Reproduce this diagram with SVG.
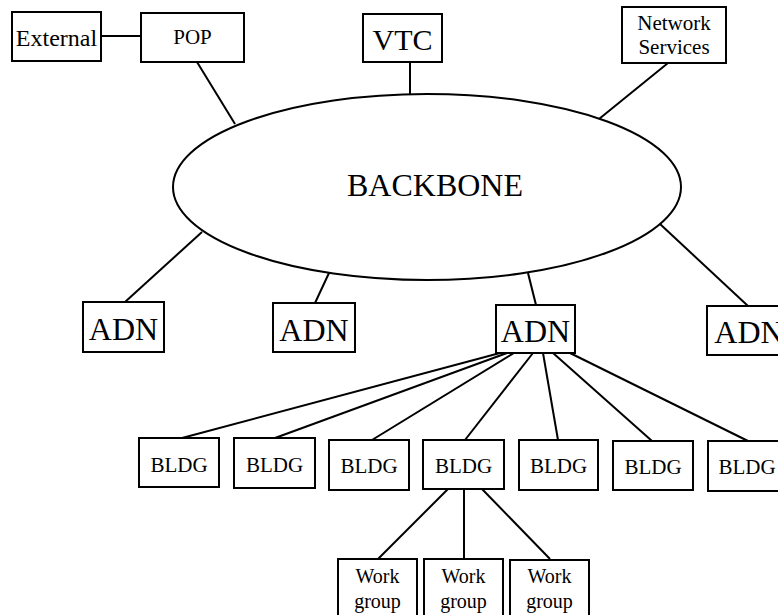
<svg xmlns="http://www.w3.org/2000/svg" width="778" height="615" viewBox="0 0 778 615">
<style>
.box{fill:#fff;stroke:#000;stroke-width:2}
.ln{stroke:#000;stroke-width:2;fill:none}
text{font-family:"Liberation Serif","Times New Roman",serif;fill:#000;text-anchor:middle}
.s20{font-size:20px}
.s21{font-size:21px}
.s24{font-size:24px}
.s30{font-size:30px}
.s32{font-size:32px}
</style>
<rect width="778" height="615" fill="#fff"/>
<g id="connectors">
<line class="ln" x1="101" y1="36" x2="141" y2="36"/>
<line class="ln" x1="197" y1="62" x2="235" y2="124"/>
<line class="ln" x1="410" y1="62" x2="410" y2="94"/>
<line class="ln" x1="668" y1="63" x2="599" y2="119"/>
<line class="ln" x1="202" y1="232" x2="125" y2="302"/>
<line class="ln" x1="329" y1="273" x2="315" y2="303"/>
<line class="ln" x1="528" y1="273" x2="536" y2="305"/>
<line class="ln" x1="660" y1="224" x2="748" y2="306"/>
<line class="ln" x1="500" y1="353" x2="182" y2="438"/>
<line class="ln" x1="507" y1="353" x2="275" y2="438"/>
<line class="ln" x1="514" y1="353" x2="372" y2="440"/>
<line class="ln" x1="533" y1="353" x2="465" y2="440"/>
<line class="ln" x1="543" y1="353" x2="558" y2="440"/>
<line class="ln" x1="553" y1="353" x2="652" y2="441"/>
<line class="ln" x1="570" y1="353" x2="748" y2="441"/>
<line class="ln" x1="448" y1="489" x2="378" y2="559"/>
<line class="ln" x1="464" y1="489" x2="464" y2="559"/>
<line class="ln" x1="482" y1="489" x2="550" y2="559"/>
</g>
<g id="backbone">
<ellipse class="box" cx="427" cy="187" rx="254" ry="93"/>
<text class="s32" x="435" y="196">BACKBONE</text>
</g>
<g id="external">
<rect class="box" x="12" y="12" width="89" height="49"/>
<text class="s24" x="56.5" y="46">External</text>
</g>
<g id="pop">
<rect class="box" x="141" y="13" width="103" height="49"/>
<text class="s21" x="192.5" y="44">POP</text>
</g>
<g id="vtc">
<rect class="box" x="363" y="14" width="79" height="48"/>
<text class="s30" x="402.5" y="50">VTC</text>
</g>
<g id="netsvc">
<rect class="box" x="622" y="7" width="104" height="56"/>
<text class="s21" x="674" y="30">Network</text>
<text class="s21" x="674" y="54">Services</text>
</g>
<g id="adn1">
<rect class="box" x="83" y="302" width="81" height="50"/>
<text class="s32" x="123.5" y="340">ADN</text>
</g>
<g id="adn2">
<rect class="box" x="273" y="303" width="82" height="49"/>
<text class="s32" x="314" y="341">ADN</text>
</g>
<g id="adn3">
<rect class="box" x="496" y="305" width="79" height="48"/>
<text class="s32" x="535.5" y="342">ADN</text>
</g>
<g id="adn4">
<rect class="box" x="707" y="306" width="80" height="49"/>
<text class="s32" x="749" y="343">ADN</text>
</g>
<g id="bldg1"><rect class="box" x="139" y="438" width="80" height="49"/><text class="s21" x="179" y="472">BLDG</text></g>
<g id="bldg2"><rect class="box" x="234" y="438" width="81" height="50"/><text class="s21" x="274.5" y="472">BLDG</text></g>
<g id="bldg3"><rect class="box" x="329" y="440" width="80" height="50"/><text class="s21" x="369" y="473">BLDG</text></g>
<g id="bldg4"><rect class="box" x="423" y="440" width="81" height="49"/><text class="s21" x="463.5" y="473">BLDG</text></g>
<g id="bldg5"><rect class="box" x="519" y="440" width="79" height="50"/><text class="s21" x="558.5" y="473">BLDG</text></g>
<g id="bldg6"><rect class="box" x="613" y="441" width="80" height="49"/><text class="s21" x="653" y="474">BLDG</text></g>
<g id="bldg7"><rect class="box" x="708" y="441" width="80" height="50"/><text class="s21" x="747" y="474">BLDG</text></g>
<g id="wg1"><rect class="box" x="338" y="559" width="79" height="62"/><text class="s20" x="377.5" y="583">Work</text><text class="s20" x="377.5" y="608">group</text></g>
<g id="wg2"><rect class="box" x="424" y="559" width="79" height="62"/><text class="s20" x="463.5" y="583">Work</text><text class="s20" x="463.5" y="608">group</text></g>
<g id="wg3"><rect class="box" x="510" y="560" width="79" height="62"/><text class="s20" x="549.5" y="583">Work</text><text class="s20" x="549.5" y="608">group</text></g>
</svg>
